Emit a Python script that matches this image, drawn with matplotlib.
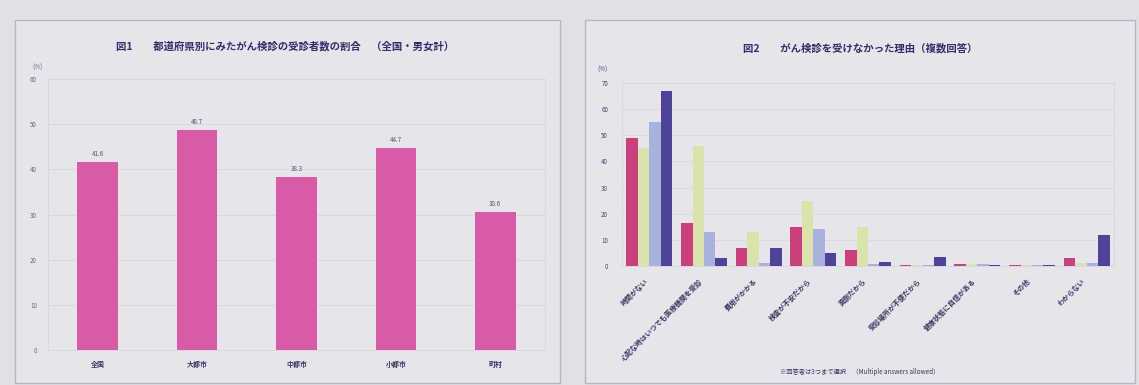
import numpy as np
import matplotlib
matplotlib.use("Agg")
import matplotlib.pyplot as plt
from matplotlib.patches import Rectangle

plt.rcParams['font.family'] = ['Noto Sans CJK JP', 'DejaVu Sans']

# Figure 1: single series
left_title = "図1　　都道府県別にみたがん検診の受診者数の割合　（全国・男女計）"
left_cats = ["全国", "大都市", "中都市", "小都市", "町村"]
left_vals = [41.6, 48.7, 38.3, 44.7, 30.6]
left_ticks = [0, 10, 20, 30, 40, 50, 60]

# Figure 2: grouped bars, 4 series
right_title = "図2　　がん検診を受けなかった理由（複数回答）"
right_cats = ["時間がない", "心配な時はいつでも医療機関を受診",
              "費用がかかる", "検査が不安だから", "面倒だから",
              "受診場所が不便だから", "健康状態に自信がある",
              "その他", "わからない"]
series_a = [49, 16.5, 7, 15, 6, 0.4, 0.6, 0.3, 3]
series_b = [45, 46, 13, 25, 15, 0.5, 0.8, 0.4, 1]
series_c = [55, 13, 1, 14, 0.6, 0.4, 0.7, 0.5, 1]
series_d = [67, 3, 7, 5, 1.5, 3.5, 0.5, 0.3, 12]
right_ticks = [0, 10, 20, 30, 40, 50, 60, 70]
right_note = "※回答者は3つまで選択　（Multiple answers allowed）"

BG = '#e2dfe6'
PANEL = '#e7e5eb'
EDGE = '#b9b5c6'
TXT = '#352d68'
GRID = '#d8d5de'

fig = plt.figure(figsize=(11.39, 3.85), dpi=100, facecolor=BG)
W, H = 1139, 385


def px_rect(x0, y0, x1, y1):
    return [x0 / W, 1 - y1 / H, (x1 - x0) / W, (y1 - y0) / H]


# panel frames
for x0, x1 in [(15, 560), (585, 1135)]:
    fig.patches.append(Rectangle((x0 / W, 1 - 383 / H), (x1 - x0) / W, 363 / H,
                                 transform=fig.transFigure, facecolor=PANEL,
                                 edgecolor=EDGE, linewidth=1.0, zorder=-10))

# ---- left chart ----
ax1 = fig.add_axes(px_rect(48, 79, 545, 350))
ax1.set_facecolor(PANEL)
x1 = np.arange(len(left_cats))
bars = ax1.bar(x1, left_vals, width=0.41, color='#d95aa6', zorder=3)
for b, v in zip(bars, left_vals):
    ax1.text(b.get_x() + b.get_width() / 2, v + 0.8, f"{v:.1f}",
             ha='center', va='bottom', fontsize=4.5, color='#5a5470')
ax1.set_xlim(-0.5, len(left_cats) - 0.5)
ax1.set_ylim(0, 60)
ax1.set_yticks(left_ticks)
ax1.set_yticklabels([str(t) for t in left_ticks], fontsize=4.5, color='#6a6580')
ax1.set_xticks(x1)
ax1.set_xticklabels(left_cats, fontsize=5, color='#3c3560', fontweight='bold')
ax1.tick_params(length=0, pad=8)
ax1.tick_params(axis='x', pad=8)
ax1.grid(axis='y', color=GRID, linewidth=0.6, zorder=0)
for s in ax1.spines.values():
    s.set_color(GRID)
    s.set_linewidth(0.6)
ax1.text(-0.022, 1.035, "(%)", transform=ax1.transAxes, fontsize=4.5,
         color='#6a6580', ha='center')
fig.text(285 / W, 1 - 46 / H, left_title, ha='center', va='center',
         fontsize=7.5, fontweight='bold', color=TXT)

# ---- right chart ----
ax2 = fig.add_axes(px_rect(622, 83, 1114, 266))
ax2.set_facecolor(PANEL)
x2 = np.arange(len(right_cats))
bw = 0.21
colors = ['#c8407c', '#dce2ac', '#a8b2de', '#4d4398']
for i, (vals, c) in enumerate(zip([series_a, series_b, series_c, series_d], colors)):
    ax2.bar(x2 + (i - 1.5) * bw, vals, width=bw, color=c, zorder=3)
ax2.set_xlim(-0.5, len(right_cats) - 0.5)
ax2.set_ylim(0, 70)
ax2.set_yticks(right_ticks)
ax2.set_yticklabels([str(t) for t in right_ticks], fontsize=4.5, color='#4a4570')
ax2.set_xticks(x2 - 0.1)
ax2.set_xticklabels(right_cats, fontsize=5, color='#3c3560', rotation=45,
                    ha='right', rotation_mode='anchor', fontweight='bold')
ax2.tick_params(length=0)
ax2.tick_params(axis='y', pad=10)
ax2.tick_params(axis='x', pad=8)
ax2.grid(axis='y', color=GRID, linewidth=0.5, zorder=0)
for s in ax2.spines.values():
    s.set_color(GRID)
    s.set_linewidth(0.6)
ax2.text(-0.03, 1.06, "(%)", transform=ax2.transAxes, fontsize=4.5,
         color='#4a4570', ha='right')
fig.text(860 / W, 1 - 48 / H, right_title, ha='center', va='center',
         fontsize=7.5, fontweight='bold', color=TXT)
fig.text(860 / W, 1 - 372 / H, right_note, ha='center', va='center',
         fontsize=4.5, color='#3c3560')

fig.savefig("out.png", dpi=100, facecolor=BG)
